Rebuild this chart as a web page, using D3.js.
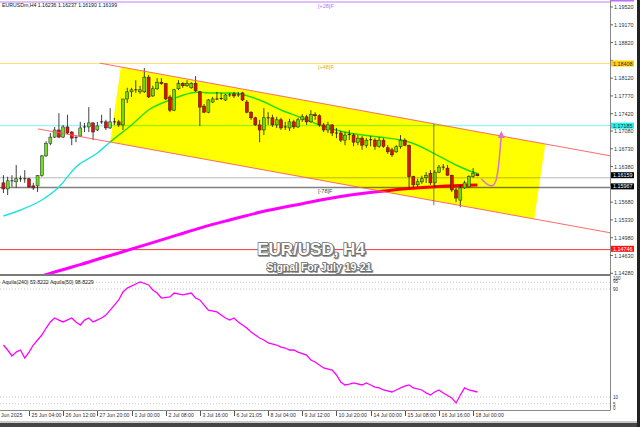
<!DOCTYPE html>
<html><head><meta charset="utf-8">
<script src="https://cdn.jsdelivr.net/npm/d3@7/dist/d3.min.js"></script>
<style>body{margin:0;background:#fff}svg{display:block}text{font-family:"Liberation Sans",Arial,sans-serif}</style>
</head><body><svg id="c" width="640" height="427"></svg>
<script>
// ---------- DATA ----------
const open  = [1.1606,1.1594,1.1610,1.1608,1.1614,1.1613,1.1614,1.1600,1.1600,1.1620,1.1659,1.1684,1.1696,1.1710,1.1696,1.1716,1.1706,1.1694,1.1698,1.1716,1.1716,1.1724,1.1710,1.1726,1.1726,1.1714,1.1726,1.1726,1.1720,1.1771,1.1785,1.1789,1.1785,1.1785,1.1814,1.1777,1.1791,1.1804,1.1801,1.1775,1.1749,1.1791,1.1802,1.1797,1.1793,1.1802,1.1785,1.1757,1.1745,1.1765,1.1771,1.1771,1.1769,1.1779,1.1781,1.1779,1.1783,1.1765,1.1745,1.1734,1.1720,1.1710,1.1734,1.1734,1.1720,1.1730,1.1716,1.1714,1.1726,1.1716,1.1730,1.1736,1.1726,1.1740,1.1738,1.1720,1.1710,1.1720,1.1704,1.1704,1.1690,1.1700,1.1700,1.1686,1.1694,1.1680,1.1690,1.1690,1.1678,1.1690,1.1675,1.1671,1.1667,1.1677,1.1690,1.1680,1.1618,1.1602,1.1608,1.1616,1.1625,1.1606,1.1627,1.1637,1.1635,1.1621,1.1592,1.1572,1.1596,1.1598,1.1618,1.16236];
const high  = [1.1621,1.1618,1.1621,1.1641,1.1620,1.1631,1.1616,1.1606,1.1621,1.1661,1.1688,1.1704,1.1716,1.1743,1.1720,1.1740,1.1708,1.1700,1.1726,1.1724,1.1755,1.1725,1.1726,1.1740,1.1730,1.1753,1.1734,1.1730,1.1771,1.1793,1.1793,1.1808,1.1797,1.1832,1.1818,1.1797,1.1812,1.1812,1.1802,1.1779,1.1791,1.1808,1.1804,1.1808,1.1804,1.1816,1.1787,1.1761,1.1771,1.1775,1.1785,1.1783,1.1781,1.1783,1.1785,1.1785,1.1785,1.1769,1.1747,1.1736,1.1730,1.1753,1.1745,1.1740,1.1736,1.1734,1.1726,1.1732,1.1730,1.1734,1.1741,1.1740,1.1749,1.1745,1.1741,1.1724,1.1726,1.1722,1.1714,1.1708,1.1706,1.1710,1.1704,1.1700,1.1698,1.1694,1.1698,1.1694,1.1696,1.1694,1.1680,1.1675,1.1680,1.1700,1.1694,1.1681,1.1620,1.1614,1.1620,1.1627,1.1631,1.1631,1.1641,1.1643,1.1641,1.1622,1.1596,1.1602,1.1610,1.1621,1.1635,1.16237];
const low   = [1.1586,1.1582,1.1598,1.1596,1.1608,1.1606,1.1596,1.1592,1.1588,1.1618,1.1657,1.1680,1.1694,1.1694,1.1694,1.1702,1.1680,1.1686,1.1696,1.1706,1.1706,1.1690,1.1708,1.1722,1.1710,1.1712,1.1720,1.1716,1.1710,1.1763,1.1775,1.1783,1.1781,1.1783,1.1773,1.1775,1.1789,1.1799,1.1769,1.1745,1.1747,1.1789,1.1793,1.1795,1.1791,1.1785,1.1718,1.1743,1.1743,1.1763,1.1769,1.1769,1.1767,1.1775,1.1773,1.1775,1.1767,1.1743,1.1730,1.1718,1.1686,1.1700,1.1720,1.1716,1.1714,1.1710,1.1710,1.1708,1.1712,1.1714,1.1726,1.1720,1.1724,1.1730,1.1716,1.1706,1.1704,1.1698,1.1694,1.1686,1.1680,1.1690,1.1678,1.1680,1.1671,1.1675,1.1678,1.1671,1.1675,1.1675,1.1663,1.1657,1.1665,1.1673,1.1678,1.1596,1.1596,1.1598,1.1604,1.1606,1.1602,1.1598,1.1625,1.1631,1.1620,1.1588,1.1568,1.1558,1.1594,1.1596,1.1616,1.16190];
const close = [1.1594,1.1610,1.1609,1.1614,1.1613,1.1614,1.1598,1.1596,1.1620,1.1659,1.1684,1.1696,1.1710,1.1696,1.1716,1.1704,1.1694,1.1695,1.1714,1.1715,1.1724,1.1706,1.1718,1.1725,1.1714,1.1726,1.1725,1.1720,1.1771,1.1785,1.1789,1.1788,1.1789,1.1814,1.1775,1.1791,1.1804,1.1801,1.1771,1.1749,1.1789,1.1801,1.1797,1.1801,1.1801,1.1787,1.1755,1.1745,1.1769,1.1771,1.1770,1.1772,1.1779,1.1778,1.1777,1.1778,1.1769,1.1745,1.1734,1.1720,1.1710,1.1734,1.1733,1.1720,1.1730,1.1714,1.1715,1.1726,1.1716,1.1730,1.1736,1.1726,1.1740,1.1738,1.1720,1.1710,1.1720,1.1704,1.1703,1.1690,1.1700,1.1701,1.1686,1.1694,1.1680,1.1690,1.1691,1.1678,1.1690,1.1678,1.1667,1.1661,1.1677,1.1690,1.1680,1.1618,1.1602,1.1608,1.1614,1.1621,1.1606,1.1627,1.1637,1.1636,1.1621,1.1592,1.1576,1.1596,1.1606,1.1618,1.1625,1.16199];

// bar index / value pairs read from the moving averages
const maFastIdx = [0,4,9,13,17,22,25,30,34,39,44,46,48,54,58,60,65,70,74,81,88,93,95,102,106,110,111];
const maFastVal = [1.15407,1.15526,1.15722,1.15978,1.16372,1.16647,1.16864,1.17198,1.17493,1.17690,1.17828,1.17848,1.17828,1.17828,1.17749,1.17690,1.17493,1.17336,1.17198,1.17041,1.16962,1.16903,1.16864,1.16588,1.16411,1.16273,1.16250];
const maSlowIdx = [6,9,13,18,23,27,34,41,46,53,60,70,79,88,95,102,111];
const maSlowVal = [1.14130,1.14227,1.14330,1.14450,1.14580,1.14680,1.14860,1.15040,1.15170,1.15330,1.15480,1.15650,1.15790,1.15890,1.15950,1.15990,1.16018];

const aqIdx = [0,1,2,3,4,5,6,7,9,10,11,12,13,14,16,17,18,19,20,21,23,24,25,26,27,28,29,31,32,34,35,36,37,39,40,42,44,45,46,47,48,50,51,52,53,54,55,57,58,59,60,61,62,64,65,66,67,68,69,71,72,73,74,75,77,78,79,80,81,82,84,85,86,87,88,89,91,92,93,94,95,96,98,99,100,101,102,103,105,106,107,108,109,111];
const aqVal = [48.5,44.8,40.4,43.3,44.8,38.9,43.3,48.5,55.9,61.1,65.6,68.5,67,65.6,68.5,65.6,63.3,67,68.5,65.6,68.5,70.7,74.4,78.1,81.9,87.8,90.7,93.7,95.2,93,89.3,87,83.3,84.1,87,85.6,87,83.3,81.9,78.1,74.4,73,70.7,68.5,67,68.5,65.6,61.1,58.1,55.9,53.7,52.2,50,48.5,47,46.3,44.8,44.8,43.3,41.1,37.4,35.9,33.7,31.5,30,26.3,21.1,18.9,19.6,20.4,18.9,20.4,18.9,17.4,16.7,15.2,13.7,15.2,16.7,18.1,18.9,16.7,15.2,13,11.5,13.7,15.2,13,9.3,5.6,11.5,16.7,15.2,13.7];

const priceTicks = [1.19520,1.19170,1.18820,1.18470,1.18120,1.17770,1.17420,1.17080,1.16730,1.16380,1.16030,1.15680,1.15330,1.14980,1.14630,1.14280];
const subTicks = [100,95,90,10,5,0];
const subDotted = [95,90,10,5];
const dateTickIdx = [6,14,22,30,38,46,54,62,70,78,86,94,102,110];
const dateTickLabels = ["25 Jun 04:00","26 Jun 12:00","27 Jun 20:00","1 Jul 00:00","2 Jul 08:00","3 Jul 16:00","6 Jul 21:05","8 Jul 04:00","9 Jul 12:00","10 Jul 20:00","14 Jul 00:00","15 Jul 08:00","16 Jul 16:00","18 Jul 00:00"];
const firstDateLabel = "Jun 2025";
const levelPrices = [1.19618,1.18408,1.17185,1.16159,1.15967,1.14746];
const levelLabels = [null,"1.18408","1.17185","1.16159","1.15967","1.14746"];
const fiboLabels = ["[+28]F","[+48]F","[-78]F"];
// channel anchors (bar index, price)
const chanUpper = [[27.5,1.18340],[126.9,1.16824]];
const chanOffset = 0.01515;
const arrowPts = [[111.9,1.1614],[113.2,1.1603],[114.4,1.1598],[115.4,1.1606],[116.0,1.1640],[116.4,1.1680],[116.6,1.1700]];
const header = "EURUSDm,H4 1.16236 1.16237 1.16190 1.16199";
const subHeader = "Aquila(240) 53.8222  Aquila(50) 98.8229";
const title = "EUR/USD, H4";
const subtitle = "Signal For July 19-21";

// ---------- SCALES ----------
const svg = d3.select("#c");
const xS = d3.scaleLinear().domain([0,111]).range([3.4,477.4]);
const yS = d3.scaleLinear().domain([1.14280,1.19520]).range([273.3,7]);
const sS = d3.scaleLinear().domain([0,100]).range([410.5,275.5]);
const AX = 610;

svg.append("rect").attr("width",640).attr("height",427).attr("fill","#fff");
svg.append("defs").append("clipPath").attr("id","mainclip").append("rect").attr("x",0).attr("y",0).attr("width",AX).attr("height",274);

const main = svg.append("g").attr("clip-path","url(#mainclip)").style("isolation","isolate");

// level lines
const levelColors = ["#c080ff","#ffe070","#80f4f4","#b8b8b8","#808080","#ff3030"];
const levelWidths = [1,1,1,1,1.6,1];
levelPrices.forEach((p,k)=>{
  main.append("line").attr("x1",0).attr("x2",AX).attr("y1",yS(p)).attr("y2",yS(p))
    .attr("stroke",levelColors[k]).attr("stroke-width",levelWidths[k]);
});

// moving averages
const lineGen = d3.line().curve(d3.curveMonotoneX);
main.append("path").attr("d",lineGen(maSlowIdx.map((d,k)=>[xS(d),yS(maSlowVal[k])])))
  .attr("fill","none").attr("stroke","#ff00ff").attr("stroke-width",3);
main.append("path").attr("d",lineGen(maFastIdx.map((d,k)=>[xS(d),yS(maFastVal[k])])))
  .attr("fill","none").attr("stroke","#20e0e0").attr("stroke-width",1.4);

// candles
const cg = main.append("g");
open.forEach((o,i)=>{
  const c = close[i], x = xS(i);
  cg.append("line").attr("x1",x).attr("x2",x).attr("y1",yS(high[i])).attr("y2",yS(low[i]))
    .attr("stroke","#111").attr("stroke-width",0.8);
  const y0 = yS(Math.max(o,c)), y1 = yS(Math.min(o,c));
  if (Math.abs(y1-y0) < 0.8) {
    cg.append("line").attr("x1",x-1.6).attr("x2",x+1.6).attr("y1",y0).attr("y2",y0).attr("stroke","#111").attr("stroke-width",0.8);
  } else {
    cg.append("rect").attr("x",x-1.5).attr("y",y0).attr("width",3).attr("height",y1-y0)
      .attr("fill", c>=o ? "#6fdc2a" : "#e01010").attr("stroke","#222").attr("stroke-width",0.5);
  }
});

// channel fill (multiply, like MT4 filled objects)
const slope = (chanUpper[1][1]-chanUpper[0][1])/(chanUpper[1][0]-chanUpper[0][0]);
const upAt = i => chanUpper[0][1] + slope*(i-chanUpper[0][0]);
const loAt = i => upAt(i) - chanOffset;
const iL_top = 27.5, iL_bot = 25.0, iR_top = 126.9, iR_bot = 124.3;
main.append("path").attr("d",d3.line()([[xS(iL_top),yS(upAt(iL_top))],[xS(iR_top),yS(upAt(iR_top))],[xS(iR_bot),yS(loAt(iR_bot))],[xS(iL_bot),yS(loAt(iL_bot))]])+"Z")
  .attr("fill","#ffff00").style("mix-blend-mode","multiply");

// channel lines
const iEnd = xS.invert(AX);
main.append("line").attr("x1",xS(22.6)).attr("y1",yS(upAt(22.6))).attr("x2",AX).attr("y2",yS(upAt(iEnd)))
  .attr("stroke","#ff5a5a").attr("stroke-width",0.9);
main.append("line").attr("x1",xS(8.1)).attr("y1",yS(loAt(8.1))).attr("x2",AX).attr("y2",yS(loAt(iEnd)))
  .attr("stroke","#ff5a5a").attr("stroke-width",0.9);

// vertical marker
main.append("line").attr("x1",xS(100.8)).attr("x2",xS(100.8)).attr("y1",yS(1.1722)).attr("y2",yS(1.1562))
  .attr("stroke","#555").attr("stroke-width",0.8);

// arrow
const ap = arrowPts.map(d=>[xS(d[0]),yS(d[1])]);
main.append("path").attr("d",d3.line().curve(d3.curveBasis)(ap)).attr("fill","none").attr("stroke","#e070d0").attr("stroke-width",1.5);
const tip = ap[ap.length-1];
main.append("path").attr("d",`M${tip[0]-3.5},${tip[1]+3}L${tip[0]},${tip[1]-4}L${tip[0]+3.5},${tip[1]+3}Z`).attr("fill","#e070d0");

// fibo labels
svg.append("text").attr("x",318).attr("y",8).attr("font-size",5.5).attr("fill","#b070f0").text(fiboLabels[0]);
svg.append("text").attr("x",318).attr("y",69).attr("font-size",5.5).attr("fill","#e0b000").text(fiboLabels[1]);
svg.append("text").attr("x",318).attr("y",192.5).attr("font-size",5.5).attr("fill","#444").text(fiboLabels[2]);

// header
svg.append("text").attr("x",2).attr("y",6.5).attr("font-size",5.2).attr("fill","#111").text(header);

// title
[[title,311,255,17],[subtitle,319,271,10.5]].forEach(([t,x,y,fs])=>{
  svg.append("text").attr("x",x+1).attr("y",y+1).attr("text-anchor","middle").attr("font-size",fs).attr("font-weight","bold")
    .attr("fill","#888").attr("stroke","#888").attr("stroke-width",1.6).text(t);
  svg.append("text").attr("x",x).attr("y",y).attr("text-anchor","middle").attr("font-size",fs).attr("font-weight","bold")
    .attr("fill","#fff").attr("stroke","#666").attr("stroke-width",1.4).style("paint-order","stroke").text(t);
});

// panel separator & axes
svg.append("rect").attr("x",0).attr("y",274).attr("width",AX).attr("height",2).attr("fill","#7a7a7a");
svg.append("line").attr("x1",AX+0.5).attr("x2",AX+0.5).attr("y1",0).attr("y2",410).attr("stroke","#888");
svg.append("line").attr("x1",0).attr("x2",AX+0.5).attr("y1",410.5).attr("y2",410.5).attr("stroke","#888");

// level label boxes positions
const boxFill = ["#c070ff","#ffd000","#20f0f0","#000","#000","#ff1010"];
const boxText = ["#fff","#333","#333","#fff","#fff","#fff"];
const boxShift = [-3.5,0,0,-2.6,-1.2,-0.8];
const boxYs = levelPrices.map((p,k)=>yS(p)+boxShift[k]);

// price axis (labels hidden behind a level box are not drawn)
priceTicks.forEach(p=>{
  const yy = yS(p);
  svg.append("line").attr("x1",AX).attr("x2",AX+3).attr("y1",yy).attr("y2",yy).attr("stroke","#666");
  if (boxYs.some(b=>Math.abs(b-yy)<5.2)) return;
  svg.append("text").attr("x",AX+4).attr("y",yy+2).attr("font-size",5.4).attr("fill","#333").text(p.toFixed(5));
});
levelPrices.forEach((p,k)=>{
  const yy = boxYs[k];
  svg.append("rect").attr("x",AX+1).attr("y",yy-3).attr("width",23).attr("height",6).attr("fill",boxFill[k]);
  if (levelLabels[k]) svg.append("text").attr("x",AX+3).attr("y",yy+2).attr("font-size",5.4).attr("fill",boxText[k]).text(levelLabels[k]);
});

// sub panel
svg.append("text").attr("x",2).attr("y",284).attr("font-size",5.2).attr("fill","#111").text(subHeader);
subDotted.forEach(v=>{
  svg.append("line").attr("x1",0).attr("x2",AX).attr("y1",sS(v)).attr("y2",sS(v)).attr("stroke","#aaa").attr("stroke-width",0.7).attr("stroke-dasharray","1,2");
});
const subDy = {100:4.2,95:1.2,90:2,10:2,5:2.5,0:-0.5};
subTicks.forEach(v=>{
  svg.append("text").attr("x",AX+3).attr("y",sS(v)+subDy[v]).attr("font-size",4.6).attr("fill","#333").text(v);
});
svg.append("path").attr("d",d3.line().curve(d3.curveLinear)(aqIdx.map((d,k)=>[xS(d),sS(aqVal[k])])))
  .attr("fill","none").attr("stroke","#ff00ff").attr("stroke-width",1.3);

// date axis
svg.append("text").attr("x",1).attr("y",417).attr("font-size",5.2).attr("fill","#333").text(firstDateLabel);
dateTickIdx.forEach((d,k)=>{
  const x = Math.round(xS(d))+0.5;
  svg.append("line").attr("x1",x).attr("x2",x).attr("y1",411).attr("y2",416).attr("stroke","#555");
  svg.append("text").attr("x",x+2).attr("y",417).attr("font-size",5.2).attr("fill","#333").text(dateTickLabels[k]);
});

// frame
svg.append("rect").attr("x",0).attr("y",421).attr("width",637).attr("height",2).attr("fill","#c8c8c8");
svg.append("rect").attr("x",0).attr("y",423).attr("width",640).attr("height",4).attr("fill","#444");
svg.append("rect").attr("x",637).attr("y",0).attr("width",3).attr("height",427).attr("fill","#222");
</script></body></html>
